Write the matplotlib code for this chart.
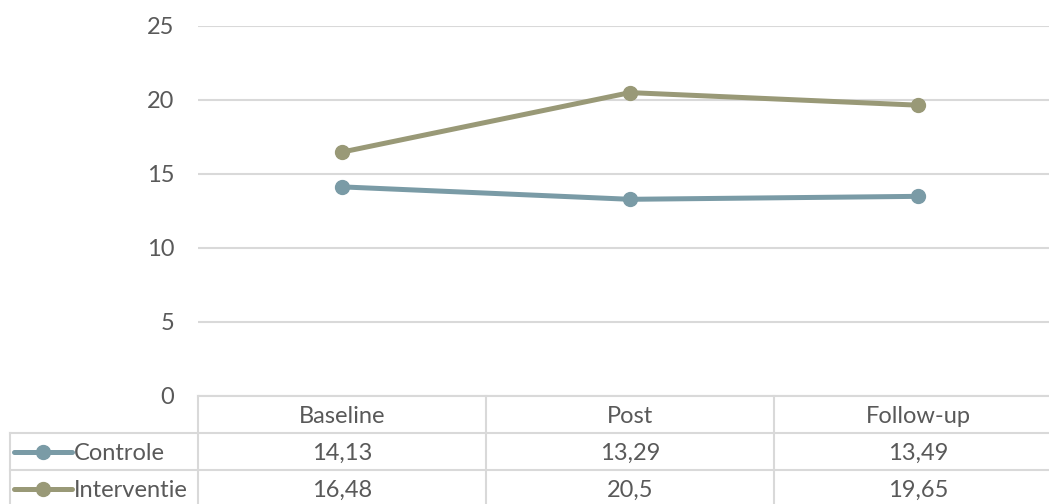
import matplotlib.pyplot as plt
import matplotlib.transforms as mtransforms
from matplotlib.lines import Line2D

plt.rcParams['font.family'] = ['Lato', 'DejaVu Sans']

categories = ['Baseline', 'Post', 'Follow-up']
series_names = ['Controle', 'Interventie']
controle = [14.13, 13.29, 13.49]
interventie = [16.48, 20.5, 19.65]
value_labels = [['14,13', '13,29', '13,49'], ['16,48', '20,5', '19,65']]
yticks = [0, 5, 10, 15, 20, 25]

colors = ['#7A9BA6', '#999977']
grid_c = '#D9D9D9'
text_c = '#595959'
fs = 17

W, H = 1049, 504
fig = plt.figure(figsize=(W / 100, H / 100), dpi=100)
# plot area in pixels: x 198..1062 (runs past the right edge), y 26..396
ax = fig.add_axes([198 / W, 1 - 396 / H, 864 / W, 370 / H])
ax.set_xlim(-0.5, 2.5)
ax.set_ylim(0, 25)
ax.set_yticks(yticks)
ax.set_yticklabels([str(t) for t in yticks], fontsize=fs, color=text_c)
ax.tick_params(axis='y', length=0, pad=17)
ax.set_xticks([])
for s in ax.spines.values():
    s.set_visible(False)
ax.grid(axis='y', color=grid_c, lw=1.5)
ax.set_axisbelow(True)

x = range(len(categories))
for vals, c in zip([controle, interventie], colors):
    ax.plot(x, vals, color=c, lw=3.6, marker='o', ms=10, solid_capstyle='round', zorder=3)

# data table below the axis: x in data units, y in axes fraction
tr = mtransforms.blended_transform_factory(ax.transData, ax.transAxes)
row_h = 37 / 370
left = -0.5 - 188 / 288
kw = dict(transform=tr, color=grid_c, lw=1.5, clip_on=False)
n_rows = len(series_names)
bottom = -row_h * (n_rows + 1)
# horizontal rules
ax.add_line(Line2D([-0.5, 2.5], [0, 0], **kw))
for r in range(1, n_rows + 1):
    ax.add_line(Line2D([left, 2.5], [-row_h * r, -row_h * r], **kw))
# vertical rules
ax.add_line(Line2D([left, left], [-row_h, bottom], **kw))
for xb in [-0.5, 0.5, 1.5, 2.5]:
    ax.add_line(Line2D([xb, xb], [0, bottom], **kw))

for i, cat in enumerate(categories):
    ax.text(i, -row_h * 0.55, cat, transform=tr, ha='center', va='center',
            fontsize=fs, color=text_c, clip_on=False)
for r, (name, c) in enumerate(zip(series_names, colors)):
    yc = -row_h * (r + 1.5)
    key_x0 = left + 4 / 288
    key_x1 = left + 62 / 288
    ax.add_line(Line2D([key_x0, key_x1], [yc, yc], transform=tr, color=c, lw=3.6,
                       clip_on=False, solid_capstyle='round'))
    ax.add_line(Line2D([(key_x0 + key_x1) / 2], [yc], transform=tr, color=c,
                       marker='o', ms=10, clip_on=False))
    ax.text(key_x1 + 2 / 288, yc - row_h * 0.05, name, transform=tr, ha='left', va='center',
            fontsize=fs, color=text_c, clip_on=False)
    for i, lab in enumerate(value_labels[r]):
        ax.text(i, yc - row_h * 0.05, lab, transform=tr, ha='center', va='center',
                fontsize=fs, color=text_c, clip_on=False)

fig.savefig('out.png', dpi=100)
